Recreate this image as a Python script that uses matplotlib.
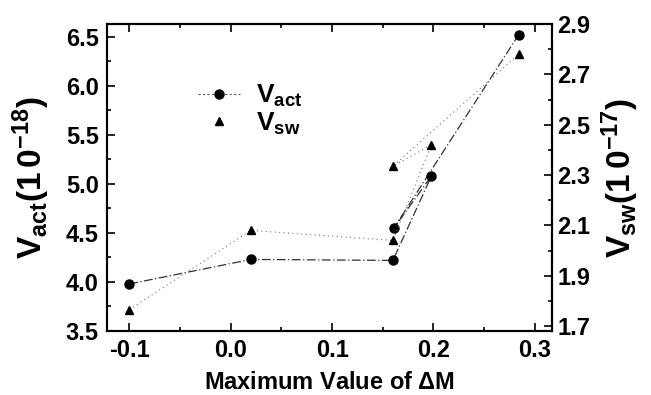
import numpy as np
import matplotlib
matplotlib.use('Agg')
import matplotlib.pyplot as plt
from matplotlib.lines import Line2D
from matplotlib.ticker import MultipleLocator

plt.rcParams['font.family'] = ['Liberation Sans', 'DejaVu Sans']
plt.rcParams['font.weight'] = 'bold'
plt.rcParams['mathtext.fontset'] = 'custom'
plt.rcParams['mathtext.rm'] = 'Liberation Sans:bold'
plt.rcParams['mathtext.it'] = 'Liberation Sans:bold'
plt.rcParams['mathtext.bf'] = 'Liberation Sans:bold'
plt.rcParams['mathtext.default'] = 'rm'

# data (in drawing order, as connected in the original)
dm = [-0.1, 0.02, 0.16, 0.198, 0.161, 0.284]
v_act = [3.98, 4.23, 4.22, 5.08, 4.55, 6.52]
dm_sw = [-0.1, 0.02, 0.16, 0.198, 0.16, 0.284]
v_sw = [1.765, 2.08, 2.04, 2.42, 2.335, 2.78]

xticks = [-0.1, 0.0, 0.1, 0.2, 0.3]
yticks_left = [3.5, 4.0, 4.5, 5.0, 5.5, 6.0, 6.5]
yticks_right = [1.7, 1.9, 2.1, 2.3, 2.5, 2.7, 2.9]

fig = plt.figure(figsize=(6.51, 3.95), dpi=100)
ax = fig.add_axes([0.1644, 0.162, 0.6836, 0.777])
ax2 = ax.twinx()

ax.plot(dm, v_act, color='#333333', lw=0.9, ls=(0, (7, 2, 1, 2)),
        marker='o', ms=6.5, mfc='k', mec='k', zorder=3)
ax2.plot(dm_sw, v_sw, color='#777777', lw=0.8, ls=(0, (1, 3)),
         marker='^', ms=6, mfc='k', mec='k', zorder=3)

ax.set_xlim(-0.122, 0.317)
ax.set_ylim(3.5, 6.63)
ax2.set_ylim(1.68, 2.9)

ax.set_xticks(xticks)
ax.set_xticklabels(['%.1f' % t for t in xticks])
ax.set_yticks(yticks_left)
ax.set_yticklabels(['%.1f' % t for t in yticks_left])
ax2.set_yticks(yticks_right)
ax2.set_yticklabels(['%.1f' % t for t in yticks_right])
ax.xaxis.set_minor_locator(MultipleLocator(0.05))
ax.yaxis.set_minor_locator(MultipleLocator(0.25))
ax2.yaxis.set_minor_locator(MultipleLocator(0.1))

ax.tick_params(which='both', direction='in', top=True, labelsize=17, width=1.2)
ax.tick_params(which='major', length=6, pad=6)
ax.tick_params(which='minor', length=3)
ax2.tick_params(which='both', direction='in', labelsize=17, width=1.2)
ax2.tick_params(which='major', length=6, pad=4)
ax2.tick_params(which='minor', length=3)
for a in (ax, ax2):
    for s in a.spines.values():
        s.set_linewidth(1.5)

ax.set_xlabel(r'Maximum Value of $\Delta$M', fontsize=17, fontweight='bold', labelpad=6)
ax.set_ylabel(r'$V_{act}(1\,0^{-18})$', fontsize=24, labelpad=10)
ax2.set_ylabel(r'$V_{sw}(1\,0^{-17})$', fontsize=24, labelpad=6, rotation=90)

handles = [
    Line2D([], [], color='#555555', lw=0.8, ls=(0, (2, 2)), marker='o', ms=6.5,
           mfc='k', mec='k', markevery=[1]),
    Line2D([], [], color='none', marker='^', ms=6, mfc='k', mec='k', markevery=[1]),
]
leg = ax.legend(handles, [r'$V_{act}$', r'$V_{sw}$'], loc='upper left',
                bbox_to_anchor=(0.15, 0.885), frameon=False, fontsize=19,
                handlelength=1.6, handletextpad=0.6, labelspacing=0.05)

fig.savefig('out.png', dpi=100)
